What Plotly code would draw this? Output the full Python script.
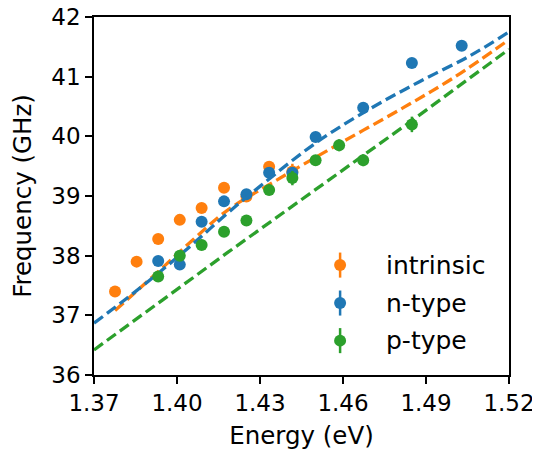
import plotly.graph_objects as go

# ---------------- data ----------------
intrinsic_E = [1.3776, 1.3854, 1.3932, 1.4010, 1.4089, 1.4170, 1.4251, 1.4333, 1.4417]
intrinsic_F = [37.40, 37.90, 38.28, 38.60, 38.80, 39.14, 38.99, 39.49, 39.41]
intrinsic_err = [0.05, 0.05, 0.05, 0.05, 0.05, 0.05, 0.05, 0.06, 0.13]

ntype_E = [1.3932, 1.4010, 1.4089, 1.4170, 1.4251, 1.4333, 1.4417, 1.4501, 1.4673, 1.4849, 1.5029]
ntype_F = [37.91, 37.85, 38.57, 38.91, 39.03, 39.39, 39.39, 39.99, 40.48, 41.23, 41.52]
ntype_err = [0.05, 0.05, 0.05, 0.05, 0.05, 0.05, 0.08, 0.05, 0.05, 0.05, 0.05]

ptype_E = [1.3932, 1.4010, 1.4089, 1.4170, 1.4251, 1.4333, 1.4417, 1.4501, 1.4586, 1.4673, 1.4849]
ptype_F = [37.65, 38.00, 38.18, 38.40, 38.59, 39.10, 39.30, 39.60, 39.85, 39.60, 40.20]
ptype_err = [0.05, 0.06, 0.05, 0.05, 0.05, 0.06, 0.12, 0.05, 0.10, 0.10, 0.13]

# fitted curves
intrinsic_fit_E = [1.3776, 1.3941, 1.4061, 1.4182, 1.4351, 1.4577, 1.4818, 1.4999, 1.5200]
intrinsic_fit_F = [37.08, 37.77, 38.28, 38.76, 39.24, 39.85, 40.48, 40.98, 41.62]

ntype_fit_E = [1.3700, 1.3820, 1.3941, 1.4061, 1.4182, 1.4302, 1.4505, 1.4697, 1.4878, 1.5059, 1.5200]
ntype_fit_F = [36.87, 37.29, 37.74, 38.21, 38.71, 39.17, 39.90, 40.46, 40.92, 41.35, 41.75]

ptype_fit_E = [1.3700, 1.4182, 1.4842, 1.5200]
ptype_fit_F = [36.42, 38.05, 40.24, 41.46]

labels = ["intrinsic", "n-type", "p-type"]
colors = ["#ff7f0e", "#1f77b4", "#2ca02c"]

x_ticks = [1.37, 1.40, 1.43, 1.46, 1.49, 1.52]
x_tick_labels = ["1.37", "1.40", "1.43", "1.46", "1.49", "1.52"]
y_ticks = [36, 37, 38, 39, 40, 41, 42]

FONT = "DejaVu Sans"
FS_TICK = 23
FS_TITLE = 24.5
FS_LEG = 25

fig = go.Figure()

series = [
    (intrinsic_E, intrinsic_F, intrinsic_err, intrinsic_fit_E, intrinsic_fit_F, "spline"),
    (ntype_E, ntype_F, ntype_err, ntype_fit_E, ntype_fit_F, "spline"),
    (ptype_E, ptype_F, ptype_err, ptype_fit_E, ptype_fit_F, "linear"),
]

for (E, F, err, fE, fF, shape), col, lab in zip(series, colors, labels):
    fig.add_trace(go.Scatter(
        x=E, y=F, mode="markers", name=lab, showlegend=False,
        marker=dict(color=col, size=12, line=dict(width=0)),
        error_y=dict(type="data", array=err, visible=True, color=col,
                     thickness=2.5, width=0),
    ))
    fig.add_trace(go.Scatter(
        x=fE, y=fF, mode="lines", showlegend=False, hoverinfo="skip",
        line=dict(color=col, width=3.3, dash="11px,5px", shape=shape),
    ))

# custom legend (markers with vertical error bars) on a hidden 0..1 axis pair
leg_x = 0.593
leg_y = [0.307, 0.201, 0.096]
for col, lab, yy in zip(colors, labels, leg_y):
    fig.add_trace(go.Scatter(
        x=[leg_x], y=[yy], mode="markers", xaxis="x2", yaxis="y2",
        showlegend=False, hoverinfo="skip",
        marker=dict(color=col, size=12, line=dict(width=0)),
        error_y=dict(type="constant", value=0.035, visible=True, color=col,
                     thickness=2.5, width=0),
    ))
    fig.add_annotation(
        x=0.699, y=yy, xref="paper", yref="paper", text=lab, showarrow=False,
        xanchor="left", yanchor="middle",
        font=dict(family=FONT, size=FS_LEG, color="black"),
    )

axis_common = dict(
    showgrid=False, zeroline=False, showline=True, linecolor="black",
    linewidth=1.5, mirror=True, ticks="outside", ticklen=7, tickwidth=1.5,
    tickcolor="black", tickfont=dict(family=FONT, size=FS_TICK, color="black"),
    automargin=False, ticklabeloverflow="allow",
)

# the page body adds an 8px offset, so the figure is 8px smaller on each axis
fig.update_layout(
    width=532, height=442,
    margin=dict(l=86, r=31, t=9, b=75),
    paper_bgcolor="white", plot_bgcolor="white",
    showlegend=False,
    font=dict(family=FONT, size=FS_TICK, color="black"),
    xaxis=dict(range=[1.37, 1.52], tickvals=x_ticks, ticktext=x_tick_labels,
               title=dict(text="Energy (eV)", font=dict(family=FONT, size=FS_TITLE), standoff=14),
               **axis_common),
    yaxis=dict(range=[36, 42], tickvals=y_ticks,
               title=dict(text="Frequency (GHz)", font=dict(family=FONT, size=FS_TITLE), standoff=13),
               **axis_common),
    xaxis2=dict(overlaying="x", range=[0, 1], visible=False, fixedrange=True),
    yaxis2=dict(overlaying="y", range=[0, 1], visible=False, fixedrange=True),
)

fig.write_html("out.html")
